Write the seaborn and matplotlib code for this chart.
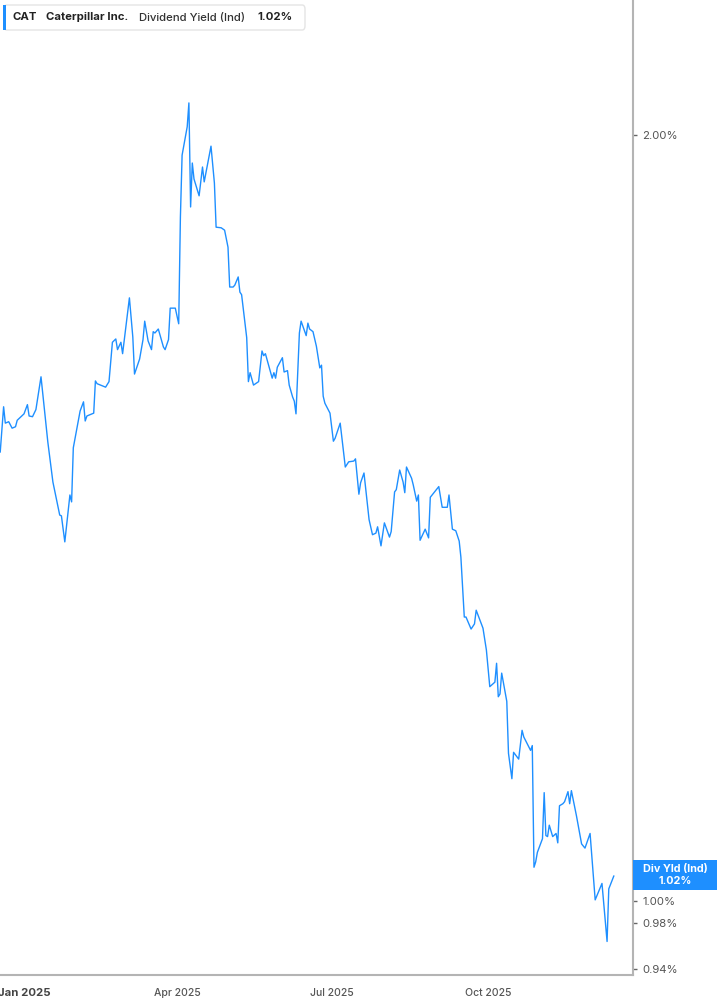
import matplotlib.pyplot as plt
import seaborn as sns
import pandas as pd
from matplotlib.patches import FancyBboxPatch, Rectangle
from matplotlib.ticker import NullLocator

# Daily-ish dividend yield (%)
dates = [
    "2024-12-18", "2024-12-20", "2024-12-21", "2024-12-23", "2024-12-25", "2024-12-27", "2024-12-28",
    "2025-01-01", "2025-01-03", "2025-01-04", "2025-01-06", "2025-01-08", "2025-01-11", "2025-01-13",
    "2025-01-15", "2025-01-18", "2025-01-22", "2025-01-23", "2025-01-25", "2025-01-28", "2025-01-29",
    "2025-01-30", "2025-02-03", "2025-02-05", "2025-02-06", "2025-02-07", "2025-02-11", "2025-02-12",
    "2025-02-13", "2025-02-18", "2025-02-20", "2025-02-22", "2025-02-24", "2025-02-25", "2025-02-27",
    "2025-02-28", "2025-03-04", "2025-03-06", "2025-03-07", "2025-03-10", "2025-03-12", "2025-03-13",
    "2025-03-15", "2025-03-17", "2025-03-18", "2025-03-19", "2025-03-21", "2025-03-24", "2025-03-25",
    "2025-03-27", "2025-03-28", "2025-03-31", "2025-04-02", "2025-04-03", "2025-04-04", "2025-04-07",
    "2025-04-08", "2025-04-09", "2025-04-10", "2025-04-11", "2025-04-14", "2025-04-16", "2025-04-17",
    "2025-04-21", "2025-04-23", "2025-04-24", "2025-04-27", "2025-04-29", "2025-05-01", "2025-05-02",
    "2025-05-04", "2025-05-05", "2025-05-07", "2025-05-08", "2025-05-09", "2025-05-12", "2025-05-13",
    "2025-05-14", "2025-05-16", "2025-05-19", "2025-05-21", "2025-05-22", "2025-05-23", "2025-05-27",
    "2025-05-28", "2025-05-29", "2025-05-30", "2025-06-02", "2025-06-03", "2025-06-05", "2025-06-06",
    "2025-06-08", "2025-06-09", "2025-06-10", "2025-06-12", "2025-06-13", "2025-06-16", "2025-06-17",
    "2025-06-18", "2025-06-20", "2025-06-22", "2025-06-24", "2025-06-25", "2025-06-26", "2025-06-27",
    "2025-06-30", "2025-07-02", "2025-07-03", "2025-07-06", "2025-07-09", "2025-07-11", "2025-07-14",
    "2025-07-15", "2025-07-17", "2025-07-18", "2025-07-20", "2025-07-23", "2025-07-25", "2025-07-27",
    "2025-07-28", "2025-07-30", "2025-08-01", "2025-08-04", "2025-08-05", "2025-08-07", "2025-08-08",
    "2025-08-10", "2025-08-12", "2025-08-13", "2025-08-14", "2025-08-17", "2025-08-18", "2025-08-20",
    "2025-08-21", "2025-08-22", "2025-08-25", "2025-08-27", "2025-08-28", "2025-09-02", "2025-09-04",
    "2025-09-07", "2025-09-08", "2025-09-10", "2025-09-12", "2025-09-14", "2025-09-15", "2025-09-16",
    "2025-09-17", "2025-09-18", "2025-09-21", "2025-09-23", "2025-09-24", "2025-09-28", "2025-09-30",
    "2025-10-02", "2025-10-05", "2025-10-06", "2025-10-07", "2025-10-08", "2025-10-09", "2025-10-12",
    "2025-10-13", "2025-10-15", "2025-10-16", "2025-10-19", "2025-10-21", "2025-10-22", "2025-10-26",
    "2025-10-27", "2025-10-28", "2025-10-29", "2025-10-30", "2025-11-02", "2025-11-03", "2025-11-04",
    "2025-11-05", "2025-11-06", "2025-11-08", "2025-11-10", "2025-11-11", "2025-11-12", "2025-11-14",
    "2025-11-15", "2025-11-17", "2025-11-18", "2025-11-19", "2025-11-22", "2025-11-25", "2025-11-27",
    "2025-11-30", "2025-12-03", "2025-12-07", "2025-12-10", "2025-12-11", "2025-12-14",
]
yields = [
    1.501, 1.564, 1.541, 1.543, 1.534, 1.536, 1.545,
    1.554, 1.567, 1.551, 1.550, 1.560, 1.607, 1.560,
    1.515, 1.461, 1.418, 1.417, 1.384, 1.444, 1.435,
    1.507, 1.558, 1.571, 1.544, 1.551, 1.555, 1.601,
    1.597, 1.592, 1.600, 1.658, 1.663, 1.647, 1.658,
    1.641, 1.726, 1.666, 1.611, 1.633, 1.662, 1.690,
    1.660, 1.647, 1.674, 1.672, 1.678, 1.651, 1.647,
    1.662, 1.710, 1.710, 1.686, 1.857, 1.964, 2.015,
    2.059, 1.874, 1.950, 1.922, 1.893, 1.943, 1.917,
    1.980, 1.915, 1.840, 1.839, 1.835, 1.807, 1.743,
    1.743, 1.746, 1.759, 1.735, 1.731, 1.665, 1.600,
    1.613, 1.595, 1.600, 1.645, 1.638, 1.641, 1.605,
    1.613, 1.605, 1.621, 1.635, 1.614, 1.616, 1.595,
    1.578, 1.572, 1.554, 1.672, 1.690, 1.668, 1.687,
    1.678, 1.674, 1.652, 1.620, 1.624, 1.579, 1.569,
    1.555, 1.516, 1.520, 1.541, 1.481, 1.488, 1.489,
    1.492, 1.445, 1.460, 1.473, 1.412, 1.393, 1.395,
    1.403, 1.379, 1.408, 1.390, 1.397, 1.448, 1.451,
    1.477, 1.461, 1.447, 1.481, 1.466, 1.457, 1.436,
    1.444, 1.386, 1.400, 1.389, 1.441, 1.455, 1.428,
    1.428, 1.444, 1.400, 1.398, 1.385, 1.365, 1.329,
    1.293, 1.293, 1.279, 1.285, 1.301, 1.280, 1.255,
    1.214, 1.219, 1.240, 1.203, 1.206, 1.229, 1.198,
    1.143, 1.117, 1.144, 1.137, 1.167, 1.160, 1.146,
    1.151, 1.031, 1.036, 1.045, 1.058, 1.103, 1.061,
    1.060, 1.071, 1.060, 1.063, 1.054, 1.090, 1.092,
    1.094, 1.104, 1.092, 1.105, 1.080, 1.053, 1.049,
    1.063, 1.001, 1.016, 0.964, 1.011, 1.023,
]

ticker = "CAT"
company = "Caterpillar Inc."
metric = "Dividend Yield (Ind)"
badge_label = "Div Yld (Ind)"
ytick_values = [0.94, 0.98, 1.00, 2.00]
xtick_dates = ["2025-01-01", "2025-04-01", "2025-07-01", "2025-10-01"]
xtick_labels = ["Jan 2025", "Apr 2025", "Jul 2025", "Oct 2025"]

df = pd.DataFrame({"date": pd.to_datetime(dates), "yield": yields})

sns.set_style("white")
plt.rcParams["font.family"] = ["Inter", "DejaVu Sans"]

W, H = 717, 1005
blue = "#1e8fff"


def fx(px):
    return px / W


def fy(py):
    return 1 - py / H


fig = plt.figure(figsize=(W / 100, H / 100), dpi=100)
ax = fig.add_axes([0, 30 / H, 633 / W, 1 - 30 / H])

sns.lineplot(data=df, x="date", y="yield", ax=ax, color=blue, linewidth=1.0)

ax.set_yscale("log")
ax.set_ylim(0.9352, 2.26)
ax.set_xlim(pd.Timestamp("2024-12-17 21:00"), pd.Timestamp("2025-12-25 06:00"))
ax.set_xlabel("")
ax.set_ylabel("")

for side in ["top", "left"]:
    ax.spines[side].set_visible(False)
for side in ["right", "bottom"]:
    ax.spines[side].set_color("#b4b4b4")
    ax.spines[side].set_linewidth(1.5)

# y axis on the right, log ticks
ax.yaxis.tick_right()
ax.yaxis.set_minor_locator(NullLocator())
ax.set_yticks(ytick_values, [f"{v:.2f}%" for v in ytick_values])
ax.tick_params(axis="y", length=3, width=1, color="#666666", labelsize=8.2,
               labelcolor="#555555", pad=3.5)

ax.set_xticks(pd.to_datetime(xtick_dates), xtick_labels)
ax.tick_params(axis="x", length=5, width=1, color="#999999", labelsize=7.5,
               labelcolor="#555555", pad=4)
first = ax.get_xticklabels()[0]
first.set_fontweight("bold")
first.set_fontsize(8.2)
first.set_color("#444444")
for lab in ax.get_xticklabels()[1:]:
    lab.set_fontweight("medium")

# header box
box = FancyBboxPatch((fx(4), fy(30)), fx(305) - fx(4), 25 / H,
                     boxstyle="round,pad=0,rounding_size=0.004",
                     transform=fig.transFigure, fc="white", ec="#e4e4e4", lw=1)
fig.patches.append(box)
fig.patches.append(Rectangle((fx(3), fy(30)), 3 / W, 25 / H, transform=fig.transFigure,
                             fc=blue, ec="none"))
hdr = dict(fontsize=8.2, va="center")
fig.text(fx(13), fy(17.5), ticker, fontweight="bold", color="#222222", **hdr)
fig.text(fx(46), fy(17.5), company, fontweight="bold", color="#222222", **hdr)
fig.text(fx(139), fy(17.5), metric, fontweight="medium", color="#333333", **hdr)
fig.text(fx(257), fy(17.5), f"{yields[-1]:.2f}%", fontweight="bold", color="#222222", **hdr)

# last value badge
fig.patches.append(Rectangle((fx(633), fy(890)), 84 / W, 30 / H, transform=fig.transFigure,
                             fc=blue, ec="none"))
fig.text(fx(675), fy(868.5), badge_label, fontsize=7.8, fontweight="bold", color="white",
         ha="center", va="center")
fig.text(fx(675), fy(880.5), f"{yields[-1]:.2f}%", fontsize=7.8, fontweight="bold", color="white",
         ha="center", va="center")

fig.savefig("out.png", dpi=100)
